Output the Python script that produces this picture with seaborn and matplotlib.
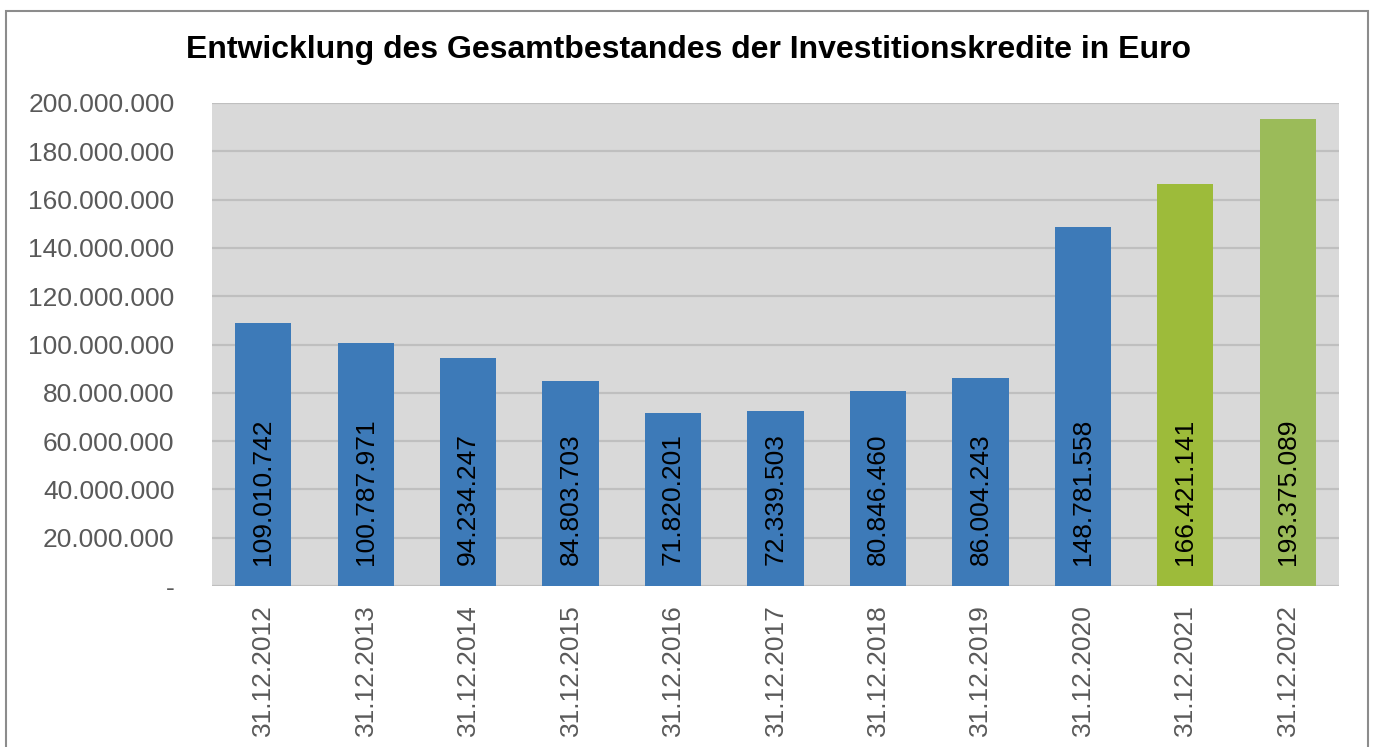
import matplotlib
matplotlib.use("Agg")
import matplotlib.pyplot as plt
import seaborn as sns
import numpy as np
from matplotlib.patches import Rectangle
from matplotlib.ticker import FixedLocator, FuncFormatter

categories = ["31.12.2012", "31.12.2013", "31.12.2014", "31.12.2015", "31.12.2016",
              "31.12.2017", "31.12.2018", "31.12.2019", "31.12.2020", "31.12.2021", "31.12.2022"]
values = [109010742, 100787971, 94234247, 84803703, 71820201,
          72339503, 80846460, 86004243, 148781558, 166421141, 193375089]
bar_colors = ["#3D7AB8"] * 9 + ["#9DBB3A", "#9BBB59"]
title = "Entwicklung des Gesamtbestandes der Investitionskredite in Euro"

sns.set_theme(style="white")
plt.rcParams["font.family"] = ["Liberation Sans", "DejaVu Sans"]

fig = plt.figure(figsize=(13.73, 7.47), dpi=100)
ax = fig.add_axes([212/1373, 1-586/747, (1339-212)/1373, (586-103)/747])
ax.set_facecolor("#D9D9D9")

def de(v):
    return f"{int(v):,}".replace(",", ".")

sns.barplot(x=categories, y=values, hue=categories, palette=bar_colors, legend=False,
            width=0.55, saturation=1, linewidth=0, ax=ax, zorder=3)

ax.set_ylim(0, 200000000)
ax.set_xlim(-0.5, len(categories) - 0.5)
ax.yaxis.set_major_locator(FixedLocator(np.arange(0, 200000001, 20000000)))
ax.yaxis.set_major_formatter(FuncFormatter(lambda v, p: "-" if v == 0 else de(v)))
ax.grid(axis="y", color="#BFBFBF", linewidth=1.6, zorder=1)
ax.set_axisbelow(True)
for s in ax.spines.values():
    s.set_visible(False)

ax.tick_params(axis="y", length=0, pad=27, labelsize=19, labelcolor="#595959")
ax.tick_params(axis="x", which="major", length=0, pad=13, labelsize=19, labelcolor="#595959", rotation=90)
ax.set_xticks(np.arange(-0.5, len(categories)), minor=True)
ax.tick_params(axis="x", which="minor", length=7, width=1.5, color="#BFBFBF", direction="out")
ax.set_xlabel("")
ax.set_ylabel("")

for i, v in enumerate(values):
    ax.annotate(de(v), xy=(i, 0), xytext=(0, 15), textcoords="offset points",
                rotation=90, ha="center", va="bottom", fontsize=19, color="black", zorder=5)

fig.text(0.5 * (185 + 1192) / 1373, 1 - 50/747, title, ha="center", va="center",
         fontsize=23, fontweight="bold", color="black")

fig.patches.append(Rectangle((6/1373, -0.05), (1368-6)/1373, 1.05 - 11/747,
                             transform=fig.transFigure, fill=False,
                             edgecolor="#8C8C8C", linewidth=1.5, zorder=10))

fig.savefig("out.png", dpi=100)
